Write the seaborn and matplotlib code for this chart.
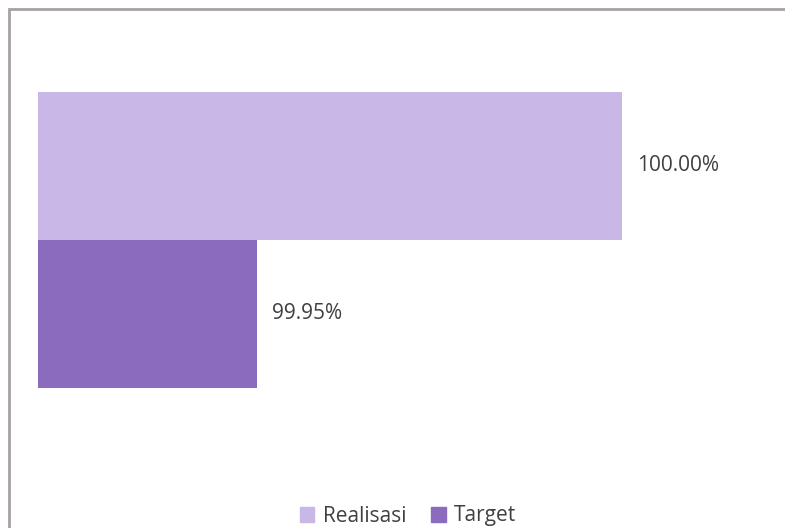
import matplotlib
matplotlib.use("Agg")
import matplotlib.pyplot as plt
from matplotlib.patches import Rectangle
import pandas as pd
import seaborn as sns

# data
series = ["Realisasi", "Target"]
values = [100.00, 99.95]
labels = ["100.00%", "99.95%"]
colors = ["#c8b7e7", "#8b6bbd"]

df = pd.DataFrame({"series": series, "value": values})

sns.set_style("white")
plt.rcParams["font.family"] = ["Open Sans", "DejaVu Sans"]

fig = plt.figure(figsize=(7.85, 5.28), dpi=100)
ax = fig.add_axes([38 / 785, 0.0, 742 / 785, 1 - 10 / 528])

sns.barplot(data=df, y="series", x="value", hue="series", palette=colors,
            width=1.0, orient="h", legend=False, ax=ax, saturation=1,
            linewidth=0)

ax.set_xlim(99.92, 99.92 + 742 / 7300)
ax.set_ylim(-1.054 + 518 / 148, -1.054)
for c, lab in zip(ax.containers, labels):
    ax.bar_label(c, labels=[lab], padding=11, fontsize=15, color="#404040")

ax.set_xlabel("")
ax.set_ylabel("")
ax.set_xticks([])
ax.set_yticks([])
sns.despine(ax=ax, left=True, bottom=True, top=True, right=True)

# outer chart frame (top and left edges visible in the scan)
fig.patches.append(Rectangle((9 / 785, -0.2), 2, 1.2 - 9 / 528, fill=False,
                             edgecolor="#a8a0a4", linewidth=2,
                             transform=fig.transFigure, figure=fig))

handles = [Rectangle((0, 0), 1, 1, color=c) for c in colors]
fig.legend(handles, series, loc="center", bbox_to_anchor=(408 / 785, 1 - 516 / 528),
           ncol=2, frameon=False, fontsize=15, handlelength=0.7, handleheight=0.7,
           handletextpad=0.4, columnspacing=1.2, labelcolor="#404040",
           borderpad=0.1)

fig.savefig("out.png", dpi=100)
